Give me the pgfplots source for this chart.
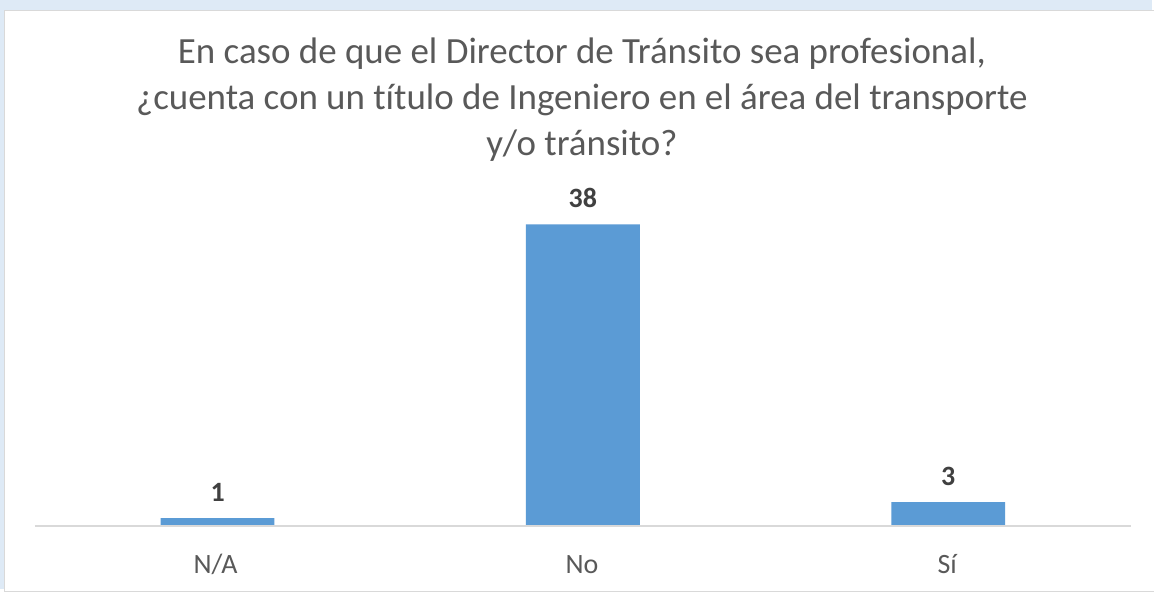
\documentclass[border=0pt]{standalone}
\usepackage{pgfplots}
\pgfplotsset{compat=1.18}
\usepackage{fontspec}
\setmainfont{Carlito}[Ligatures=NoCommon]
\definecolor{barblue}{HTML}{5B9BD5}
\definecolor{txt}{HTML}{595959}
\definecolor{lbl}{HTML}{404040}
\definecolor{outer}{HTML}{DEEAF6}
\definecolor{axisgray}{HTML}{D9D9D9}
\begin{document}
\begin{tikzpicture}[x=1pt,y=1pt]
\fill[outer] (0,0) rectangle (1154,590);
\fill[white,draw=black!15] (4,-2) rectangle (1156,580);
\node[anchor=base,text=txt,font=\fontsize{37}{40}\selectfont] at (583,526) {En caso de que el Director de Tránsito sea profesional,};
\node[anchor=base,text=txt,font=\fontsize{37}{40}\selectfont] at (583,480) {¿cuenta con un título de Ingeniero en el área del transporte};
\node[anchor=base,text=txt,font=\fontsize{37}{40}\selectfont] at (583,434) {y/o tránsito?};
\begin{axis}[
  at={(35pt,63pt)}, anchor=south west,
  scale only axis, width=1098pt, height=318pt,
  xmin=-0.5, xmax=2.5, ymin=0, ymax=40,
  axis lines=none,
  ybar, bar width=114pt,
  xtick=data, xticklabels={N/A,No,Sí},
  ytick=\empty,
  clip=false,
  /pgf/number format/assume math mode=true,
  nodes near coords,
  every node near coord/.append style={anchor=base, yshift=17pt, text=lbl, font=\fontsize{28}{30}\selectfont\bfseries},
]
\addplot[fill=barblue, draw=none] coordinates {(0,1) (1,38) (2,3)};
\draw[axisgray, line width=1.5pt] (axis cs:-0.5,0) -- (axis cs:2.5,0);
\end{axis}
\node[anchor=base,text=txt,font=\fontsize{28}{30}\selectfont] at (216,15) {N/A};
\node[anchor=base,text=txt,font=\fontsize{28}{30}\selectfont] at (583,15) {No};
\node[anchor=base,text=txt,font=\fontsize{28}{30}\selectfont] at (949,15) {Sí};
\end{tikzpicture}
\end{document}
